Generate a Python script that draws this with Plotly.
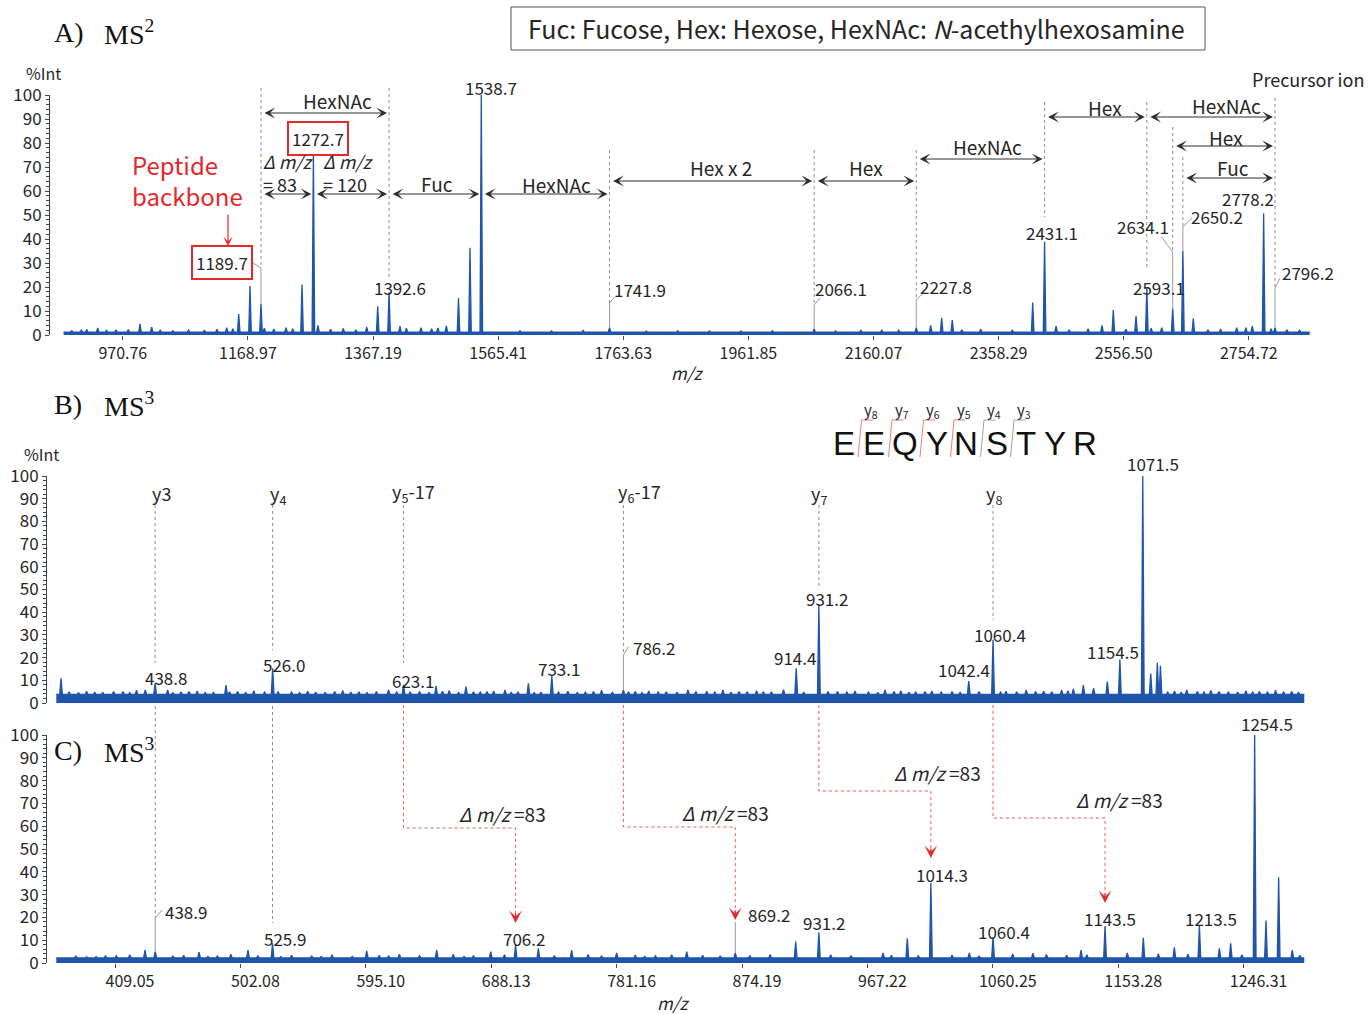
import plotly.graph_objects as go

W, H = 1370, 1014
FONT = "Noto Sans CJK JP"
SERIF = "Liberation Serif"
SEQ_FONT = "Liberation Sans"
BLUE = "#1f55aa"
RED = "#e5282a"
GREY = "#8c8c8c"
INK = "#262626"

# ---------------- MS2 spectrum (panel A) ----------------
ms2_mz = [913.6, 931.0, 979.5, 998.0, 1016.5, 1135.4, 1154.4, 1172.3, 1189.7, 1229.3,
          1254.7, 1272.7, 1280.0, 1357.2, 1374.6, 1392.6, 1409.9, 1443.2, 1483.3, 1502.6,
          1520.8, 1538.7, 1741.9, 2066.1, 2173.1, 2227.8, 2250.7, 2268.1, 2284.9, 2412.3,
          2431.1, 2449.3, 2522.1, 2540.0, 2576.0, 2593.1, 2616.7, 2634.1, 2650.2, 2666.7,
          2735.5, 2760.2, 2778.2, 2796.2]
ms2_int = [2.3, 2.9, 2.3, 4.6, 3.3, 3.0, 8.7, 20.4, 13.0, 3.0,
           21.0, 76.5, 4.0, 3.3, 12.0, 17.8, 3.7, 3.0, 3.8, 15.4,
           36.4, 100.0, 3.0, 2.5, 2.0, 3.0, 4.0, 7.2, 6.2, 13.5,
           38.9, 3.7, 4.0, 10.4, 7.9, 19.7, 3.0, 11.0, 35.0, 7.0,
           3.0, 3.7, 50.7, 3.0]
ms2_noise_mz = [890, 905, 945, 960, 1030, 1050, 1075, 1100, 1120, 1145, 1195, 1210, 1240,
                1300, 1320, 1340, 1420, 1460, 1470, 1600, 1650, 1700, 1800, 1850, 1900,
                1950, 2000, 2100, 2140, 2200, 2300, 2330, 2380, 2470, 2500, 2560, 2600,
                2690, 2710, 2750, 2790, 2815, 2835]
ms2_noise_int = [1.8, 2.0, 1.9, 2.2, 2.0, 1.8, 2.1, 1.9, 2.4, 2.6, 2.8, 2.5, 2.6,
                 2.4, 2.7, 2.2, 2.8, 2.6, 2.9, 1.8, 1.7, 1.9, 1.6, 1.8, 1.7,
                 1.6, 1.8, 1.7, 1.9, 2.0, 2.2, 2.4, 2.0, 2.2, 2.6, 2.4, 2.8,
                 2.2, 2.5, 3.0, 2.6, 2.2, 2.0]
ms2_baseline = 1.2
ms2_scan = (877.0, 2851.0)
ms2_tickvals = [970.76, 1168.97, 1367.19, 1565.41, 1763.63, 1961.85, 2160.07, 2358.29, 2556.50, 2754.72]
ms2_ticktext = ["970.76", "1168.97", "1367.19", "1565.41", "1763.63", "1961.85",
                "2160.07", "2358.29", "2556.50", "2754.72"]

# glycan residue losses read along the MS2 ladder
glycan_from = [1189.7, 1189.7, 1272.7, 1392.6, 1538.7, 1741.9, 2066.1, 2227.8, 2431.1, 2593.1, 2634.1, 2650.2]
glycan_to = [1392.6, 1272.7, 1392.6, 1538.7, 1741.9, 2066.1, 2227.8, 2431.1, 2593.1, 2796.2, 2796.2, 2796.2]
glycan_names = ["HexNAc", "<i>Δ m/z</i><br>= 83", "<i>Δ m/z</i><br>= 120", "Fuc", "HexNAc",
                "Hex x 2", "Hex", "HexNAc", "Hex", "HexNAc", "Hex", "Fuc"]

# ---------------- MS3 spectra (panels B and C) ----------------
ms3b_mz = [369.0, 431.5, 438.8, 448.1, 491.4, 526.0, 623.1, 647.2, 669.4, 698.4,
           715.7, 733.1, 786.2, 834.1, 914.4, 931.2, 980.3, 1042.4, 1060.4, 1111.3,
           1127.4, 1145.2, 1154.5, 1171.5, 1177.4, 1182.3, 1184.6, 1204.1]
ms3b_int = [10.9, 5.7, 8.7, 5.7, 7.9, 15.3, 8.0, 7.5, 7.2, 5.7,
            8.7, 11.9, 5.7, 5.7, 15.3, 43.6, 5.7, 9.7, 27.8, 5.7,
            7.9, 9.4, 19.2, 100.0, 13.0, 17.7, 16.4, 5.7]
ms3b_noise_mz = [375, 382, 388, 394, 400, 408, 415, 420, 425, 452, 458, 464, 470, 476, 482,
                 494, 500, 506, 512, 520, 530, 540, 546, 552, 558, 565, 572, 578, 584, 590,
                 596, 603, 612, 618, 628, 635, 642, 652, 657, 664, 675, 680, 685, 690, 703,
                 708, 720, 725, 738, 745, 752, 758, 764, 770, 778, 790, 795, 800, 805, 812,
                 818, 826, 840, 848, 854, 860, 866, 872, 878, 885, 890, 896, 905, 920, 938,
                 945, 952, 958, 968, 975, 987, 992, 998, 1003, 1010, 1015, 1022, 1030, 1036,
                 1050, 1066, 1070, 1078, 1085, 1092, 1098, 1104, 1116, 1120, 1135, 1190, 1195,
                 1200, 1212, 1217, 1222, 1228, 1235, 1242, 1248, 1253, 1258, 1264, 1270, 1276,
                 1282, 1287]
ms3b_noise_int = [4.8, 4.5, 5.2, 4.7, 4.6, 5.0, 5.0, 4.6, 5.6, 4.5, 4.9, 5.1, 5.3, 4.6, 4.7,
                  4.9, 5.0, 4.6, 5.4, 4.8, 5.0, 4.8, 4.6, 5.2, 4.7, 4.6, 5.0, 5.5, 4.7, 4.9,
                  4.6, 5.1, 5.7, 4.8, 4.9, 5.0, 4.6, 5.2, 5.5, 4.7, 4.9, 4.8, 5.1, 5.3, 4.7,
                  4.9, 4.6, 4.7, 4.8, 5.2, 4.6, 4.8, 5.0, 5.6, 4.7, 4.9, 5.0, 4.6, 5.3, 4.8,
                  4.9, 4.7, 5.0, 5.2, 4.8, 5.8, 4.7, 5.0, 4.8, 5.4, 4.9, 4.9, 5.9, 4.7, 5.1,
                  5.0, 4.8, 5.3, 4.8, 4.6, 5.1, 5.4, 4.7, 4.9, 5.0, 5.3, 4.8, 5.0, 4.7,
                  5.0, 4.8, 5.2, 4.9, 5.7, 5.0, 5.2, 4.9, 5.4, 6.2, 6.6, 4.8, 5.3,
                  4.7, 5.0, 4.8, 5.5, 5.0, 4.9, 4.7, 5.4, 4.8, 5.1, 4.9, 5.6, 4.8,
                  5.0, 4.7]
ms3b_baseline = 3.8

ms3c_mz = [431.3, 438.9, 471.4, 507.7, 525.9, 595.8, 647.7, 687.8, 706.2, 723.1,
           747.8, 781.2, 833.2, 869.2, 914.0, 931.2, 978.8, 996.8, 1014.3, 1042.8,
           1060.4, 1125.7, 1143.5, 1171.9, 1194.9, 1213.5, 1228.3, 1236.7, 1254.5, 1262.9,
           1272.3, 1282.4]
ms3c_int = [5.7, 5.0, 4.8, 5.7, 8.6, 5.3, 5.7, 5.0, 7.9, 6.4,
            5.7, 4.4, 5.0, 4.4, 9.4, 13.4, 4.4, 10.8, 35.2, 4.4,
            11.3, 5.7, 16.2, 11.1, 6.9, 16.2, 6.4, 8.6, 100.0, 18.6,
            37.6, 5.7]
ms3c_noise_mz = [380, 388, 395, 402, 410, 420, 452, 460, 478, 485, 495, 515, 532, 540, 555,
                 562, 570, 585, 605, 612, 620, 635, 660, 668, 675, 698, 735, 760, 770, 795,
                 802, 810, 822, 845, 858, 880, 895, 940, 955, 985, 1005, 1030, 1050, 1075,
                 1090, 1100, 1115, 1130, 1160, 1183, 1205, 1245, 1288]
ms3c_noise_int = [3.0, 2.7, 2.8, 3.1, 3.2, 3.6, 3.0, 3.4, 2.9, 3.0, 3.8, 3.1, 2.8, 3.4, 3.0,
                  2.9, 3.6, 2.9, 3.4, 3.0, 3.9, 3.2, 3.8, 2.9, 3.1, 3.6, 3.3, 3.7, 3.0, 3.5,
                  2.9, 3.2, 3.6, 3.4, 3.0, 3.3, 3.7, 3.6, 3.1, 3.4, 3.2, 3.5, 3.0, 4.0,
                  4.3, 3.7, 3.4, 3.6, 4.4, 4.0, 3.8, 3.6, 3.4]
ms3c_baseline = 2.2
ms3_scan = (365.5, 1291.3)
ms3_tickvals = [409.05, 502.08, 595.10, 688.13, 781.16, 874.19, 967.22, 1060.25, 1153.28, 1246.31]
ms3_ticktext = ["409.05", "502.08", "595.10", "688.13", "781.16", "874.19", "967.22",
                "1060.25", "1153.28", "1246.31"]

# y-ion ladder of EEQYNSTYR, and the fucose-loss partners (-83) seen in panel C
peptide = "EEQYNSTYR"
ion_names = ["y3", "y<sub>4</sub>", "y<sub>5</sub>-17", "y<sub>6</sub>-17", "y<sub>7</sub>", "y<sub>8</sub>"]
ion_mz_b = [438.8, 526.0, 623.1, 786.2, 931.2, 1060.4]
ion_mz_c = [438.9, 525.9, None, None, None, None]
fuc_loss_mz_c = [None, None, 706.2, 869.2, 1014.3, 1143.5]
seq_ions = ["y<sub>8</sub>", "y<sub>7</sub>", "y<sub>6</sub>", "y<sub>5</sub>", "y<sub>4</sub>", "y<sub>3</sub>"]

# ---------------- page geometry ----------------
PANEL = {  # x pixel span of the plot area, pixel rows of 0 % and 100 %
    "A": dict(xpx=(50, 1312), rows=(335, 95), rng=(855.42, 2854.79), xa="x", ya="y"),
    "B": dict(xpx=(47, 1306), rows=(703, 476), rng=(358.60, 1292.58), xa="x2", ya="y2"),
    "C": dict(xpx=(47, 1306), rows=(963, 735), rng=(358.60, 1292.58), xa="x3", ya="y3"),
}


def xp(col):
    return col / W


def yp(row):
    return 1 - row / H


def pct(panel, row):
    z, h = PANEL[panel]["rows"]
    return (z - row) / (z - h) * 100


def profile(mz, inten, nmz, nint, base, scan, hw):
    pts = sorted(list(zip(mz, inten)) + list(zip(nmz, nint)))
    xs, ys = [scan[0]], [base]
    for m, h in pts:
        xs += [m - hw, m, m + hw]
        ys += [base, h, base]
    xs.append(scan[1])
    ys.append(base)
    return xs, ys


fig = go.Figure()
for key, mz, it, nmz, nit, base, scan, hw in [
    ("A", ms2_mz, ms2_int, ms2_noise_mz, ms2_noise_int, ms2_baseline, ms2_scan, 2.0),
    ("B", ms3b_mz, ms3b_int, ms3b_noise_mz, ms3b_noise_int, ms3b_baseline, ms3_scan, 1.0),
    ("C", ms3c_mz, ms3c_int, ms3c_noise_mz, ms3c_noise_int, ms3c_baseline, ms3_scan, 1.0),
]:
    xs, ys = profile(mz, it, nmz, nit, base, scan, hw)
    fig.add_trace(go.Scatter(x=xs, y=ys, mode="lines", fill="tozeroy", fillcolor=BLUE,
                             line=dict(color=BLUE, width=1.3), hoverinfo="skip",
                             xaxis=PANEL[key]["xa"], yaxis=PANEL[key]["ya"], showlegend=False))

ann = []
shp = []


def text(x, y, s, size=17, xref="paper", yref="paper", xshift=0, color=INK, family=FONT,
         xanchor="center", **kw):
    d = dict(x=x, y=y, text=s, xref=xref, yref=yref, xshift=xshift, showarrow=False,
             xanchor=xanchor, yanchor="middle", font=dict(family=family, size=size, color=color))
    d.update(kw)
    ann.append(d)


def vline(xref, m, r0, r1, color=GREY, dash="dot"):
    shp.append(dict(type="line", xref=xref, yref="paper", x0=m, x1=m, y0=yp(r0), y1=yp(r1),
                    line=dict(color=color, width=1, dash=dash)))


def leader(panel, m, h, dx, r_far, r_near):
    xa, ya = PANEL[panel]["xa"], PANEL[panel]["ya"]
    if dx:
        shp.append(dict(type="line", xref=xa, xsizemode="pixel", xanchor=m, x0=dx, x1=0,
                        yref="paper", y0=yp(r_far), y1=yp(r_near),
                        line=dict(color="#9a9a9a", width=1)))
    shp.append(dict(type="line", xref=xa, yref=ya, x0=m, x1=m, y0=h, y1=pct(panel, r_near),
                    line=dict(color="#9a9a9a", width=1)))


# ---------------- panel A annotations ----------------
ms2_lookup = dict(zip(ms2_mz, ms2_int))
# (m/z, text, x offset px, row, boxed)
a_labels = [
    (1189.7, "1189.7", -39, 262, True), (1272.7, "1272.7", 5, 138, True),
    (1392.6, "1392.6", 11, 287, False), (1538.7, "1538.7", 10, 87, False),
    (1741.9, "1741.9", 30, 289, False), (2066.1, "2066.1", 27, 288, False),
    (2227.8, "2227.8", 30, 286, False), (2431.1, "2431.1", 7, 232, False),
    (2593.1, "2593.1", 12, 287, False), (2634.1, "2634.1", -30, 226, False),
    (2650.2, "2650.2", 34, 217, False), (2778.2, "2778.2", -16, 198, False),
    (2796.2, "2796.2", 33, 272, False),
]
for m, s, dx, row, boxed in a_labels:
    extra = dict(bordercolor=RED, borderwidth=2, borderpad=3, bgcolor="white") if boxed else {}
    text(m, yp(row), s, xref="x", xshift=dx, **extra)

a_leaders = [(1189.7, -13, 260, 268), (1741.9, 5, 297, 303), (2066.1, 6, 298, 305),
             (2227.8, 7, 293, 300), (2634.1, -11, 237, 252), (2650.2, 9, 218, 227),
             (2796.2, 5, 278, 288)]
for m, dx, rf, rn in a_leaders:
    leader("A", m, ms2_lookup[m], dx, rf, rn)

a_guides = [(1189.7, 88, 268), (1392.6, 88, 277), (1741.9, 150, 303), (2066.1, 150, 305),
            (2227.8, 150, 300), (2431.1, 102, 217), (2593.1, 102, 270), (2634.1, 127, 252),
            (2650.2, 157, 227), (2796.2, 98, 288)]
for m, r0, r1 in a_guides:
    vline("x", m, r0, r1)

# arrow row and label placement for each glycan step
a_steps = [(113, 12, 101), (194, 1, 173), (194, -3, 173), (194, 2, 183), (194, 11, 184),
           (181, 9, 168), (181, 1, 168), (159, 7, 147), (117, 9, 108), (117, 16, 106),
           (146, 2, 137), (178, 4, 168)]
for m0, m1, name, (row, ldx, lrow) in zip(glycan_from, glycan_to, glycan_names, a_steps):
    ann.append(dict(x=m1, y=yp(row), xref="x", yref="paper", ax=m0, ay=0, axref="x",
                    ayref="pixel", text="", showarrow=True, arrowside="end+start",
                    arrowhead=3, startarrowhead=3, arrowsize=1.8, startarrowsize=1.8,
                    arrowwidth=1, arrowcolor="#2e2e2e", standoff=2, startstandoff=2))
    delta = "Δ" in name
    text((m0 + m1) / 2, yp(lrow), name, size=18 if delta else 19, xref="x", xshift=ldx,
         align="left" if delta else "center")

text(xp(1308), yp(79), "Precursor ion", size=18)
text(xp(130), yp(180), "Peptide<br>backbone", size=24, color=RED, xanchor="left", align="left")
ann.append(dict(x=xp(228), y=yp(246), xref="paper", yref="paper", ax=0, ay=-33,
                axref="pixel", ayref="pixel", text="", showarrow=True, arrowhead=3,
                arrowsize=1.3, arrowwidth=1.2, arrowcolor=RED))

# legend box of residue abbreviations
shp.append(dict(type="rect", xref="paper", yref="paper", x0=xp(511), x1=xp(1205),
                y0=yp(50), y1=yp(7), line=dict(color="#555", width=1)))
text(xp(856), yp(28), "Fuc: Fucose, Hex: Hexose, HexNAc: <i>N</i>-acethylhexosamine", size=25)

# panel titles and axis captions
for row, lab, sup in [(32, "A)", "2"), (405, "B)", "3"), (750, "C)", "3")]:
    text(xp(52), yp(row), lab, size=28, family=SERIF, color="#111", xanchor="left")
    text(xp(102), yp(row), "MS<sup>%s</sup>" % sup, size=28, family=SERIF, color="#111",
         xanchor="left")
text(xp(43), yp(73), "%Int", size=16)
text(xp(41), yp(454), "%Int", size=16)
text(xp(687), yp(372), "<i>m/z</i>", size=17)
text(xp(673), yp(1002), "<i>m/z</i>", size=17)

# ---------------- panel B annotations ----------------
ms3b_lookup = dict(zip(ms3b_mz, ms3b_int))
b_labels = [(438.8, "438.8", 11, 677), (526.0, "526.0", 11, 664), (623.1, "623.1", 9, 680),
            (733.1, "733.1", 7, 668), (786.2, "786.2", 31, 647), (914.4, "914.4", -1, 657),
            (931.2, "931.2", 8, 598), (1042.4, "1042.4", -5, 669), (1060.4, "1060.4", 7, 634),
            (1154.5, "1154.5", -7, 651), (1171.5, "1071.5", 10, 463)]
for m, s, dx, row in b_labels:
    text(m, yp(row), s, xref="x2", xshift=dx)
leader("B", 786.2, ms3b_lookup[786.2], 5, 647, 655)

# ion labels and guide lines (placement: label x offset, label row, guide bottom row)
b_ions = [(6, 493, 663), (5, 494, 650), (10, 492, 663), (16, 492, 655), (0, 494, 588), (1, 494, 620)]
for name, m, (dx, row, bottom) in zip(ion_names, ion_mz_b, b_ions):
    text(m, yp(row), name, size=18, xref="x2", xshift=dx)
    vline("x2", m, 505, bottom)

# ---------------- panel C annotations ----------------
ms3c_lookup = dict(zip(ms3c_mz, ms3c_int))
c_labels = [(438.9, "438.9", 31, 911), (525.9, "525.9", 12, 938), (706.2, "706.2", 8, 938),
            (869.2, "869.2", 34, 914), (931.2, "931.2", 5, 922), (1014.3, "1014.3", 11, 874),
            (1060.4, "1060.4", 11, 931), (1143.5, "1143.5", 5, 918), (1213.5, "1213.5", 12, 918),
            (1254.5, "1254.5", 12, 723)]
for m, s, dx, row in c_labels:
    text(m, yp(row), s, xref="x3", xshift=dx)
leader("C", 438.9, ms3c_lookup[438.9], 7, 910, 918)
leader("C", 869.2, ms3c_lookup[869.2], 0, 922, 922)

# guides that continue from panel B into panel C
c_guides = {438.9: 918, 525.9: 923}
for m in ion_mz_c:
    if m is not None:
        vline("x3", m, 706, c_guides[m])

# fucose-loss links: elbow row, arrow tip row, label row, label x offset
fuc_links = [None, None, (828, 923, 813, -13), (827, 920, 812, -10), (791, 858, 772, 7),
             (818, 903, 799, 14)]
for mb, mc, link in zip(ion_mz_b, fuc_loss_mz_c, fuc_links):
    if link is None:
        continue
    elbow, tip, lrow, ldx = link
    shp.append(dict(type="path", xref="x3", yref="paper",
                    path="M%s,%s L%s,%s L%s,%s L%s,%s" % (mb, yp(705), mb, yp(elbow), mc, yp(elbow),
                                                          mc, yp(tip - 8)),
                    line=dict(color="#ee5a5a", width=1, dash="dot")))
    ann.append(dict(x=mc, y=yp(tip), xref="x3", yref="paper", ax=0, ay=-11, axref="pixel",
                    ayref="pixel", text="", showarrow=True, arrowhead=3, arrowsize=1.5,
                    arrowwidth=1.4, arrowcolor=RED))
    text(mc, yp(lrow), "<i>Δ m/z</i> =83", size=19, xref="x3", xshift=ldx)

# peptide sequence with y-ion cleavage marks
seq_cols = [844, 874, 905, 937, 966, 997, 1026, 1055, 1085]
for ch, col in zip(peptide, seq_cols):
    text(xp(col), yp(443), ch, size=33, family=SEQ_FONT, color="#111")
for i, name in enumerate(seq_ions):
    xb = (seq_cols[i] + seq_cols[i + 1]) / 2 - 1
    col = "#f07c7c" if i < 4 else "#a0a0a0"
    shp.append(dict(type="path", xref="paper", yref="paper",
                    path="M%s,%s L%s,%s L%s,%s" % (xp(xb), yp(457), xp(xb + 3.5), yp(420),
                                                   xp(xb + 15), yp(420)),
                    line=dict(color=col, width=1)))
    text(xp(xb + 13), yp(410), name, size=15)

# ---------------- axes ----------------
yax = dict(range=[0, 100], tickmode="linear", tick0=0, dtick=10, showline=True, linecolor="#444",
           linewidth=1, ticks="outside", ticklen=4, tickcolor="#444",
           tickfont=dict(family=FONT, size=17, color=INK),
           minor=dict(tick0=0, dtick=2, ticks="outside", ticklen=3, tickcolor="#444"),
           showgrid=False, zeroline=False, fixedrange=True, automargin=False)


def dom(key):
    p = PANEL[key]
    return dict(xd=[xp(p["xpx"][0]), xp(p["xpx"][1])], yd=[yp(p["rows"][0]), yp(p["rows"][1])])


xax_common = dict(showline=False, showgrid=False, zeroline=False, ticks="outside", ticklen=4,
                  tickcolor="#444", tickfont=dict(family=FONT, size=16, color=INK),
                  fixedrange=True, automargin=False)

fig.update_layout(
    width=W, height=H, autosize=False,
    margin=dict(l=0, r=0, t=0, b=0, pad=0, autoexpand=False),
    paper_bgcolor="white", plot_bgcolor="white", showlegend=False,
    xaxis=dict(domain=dom("A")["xd"], range=list(PANEL["A"]["rng"]), anchor="y",
               tickmode="array", tickvals=ms2_tickvals, ticktext=ms2_ticktext, **xax_common),
    yaxis=dict(domain=dom("A")["yd"], anchor="x", **yax),
    xaxis2=dict(domain=dom("B")["xd"], range=list(PANEL["B"]["rng"]), anchor="y2",
                showticklabels=False, showline=False, showgrid=False, zeroline=False,
                ticks="", fixedrange=True, automargin=False),
    yaxis2=dict(domain=dom("B")["yd"], anchor="x2", **yax),
    xaxis3=dict(domain=dom("C")["xd"], range=list(PANEL["C"]["rng"]), anchor="y3",
                tickmode="array", tickvals=ms3_tickvals, ticktext=ms3_ticktext,
                ticklabelshift=15, **xax_common),
    yaxis3=dict(domain=dom("C")["yd"], anchor="x3", **yax),
    annotations=ann, shapes=shp,
)

fig.write_html("out.html")
